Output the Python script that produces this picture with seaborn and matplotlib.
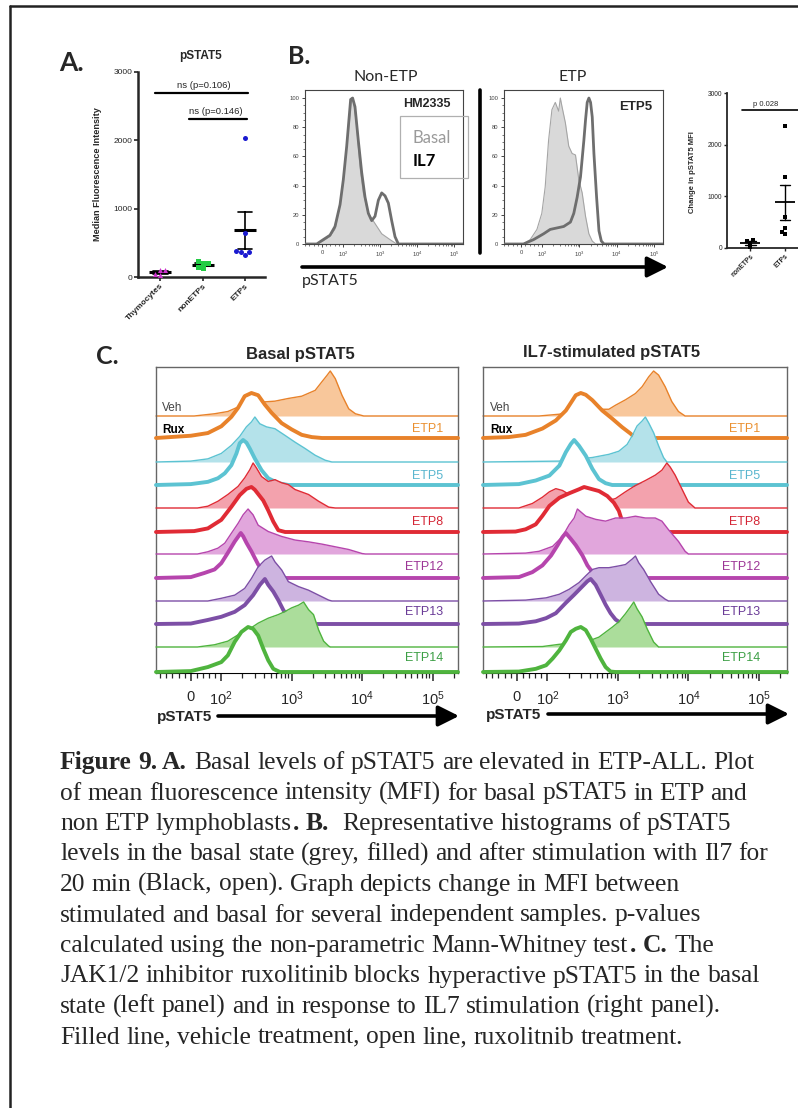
import matplotlib
matplotlib.use("Agg")
import numpy as np
import pandas as pd
import matplotlib.pyplot as plt
import seaborn as sns
from matplotlib.patches import Rectangle
from matplotlib.ticker import FixedLocator

# ---------------- data ----------------
# A. basal pSTAT5 MFI
groups_a = ["Thymocytes", "nonETPs", "ETPs"]
thymo_mfi = [105, 25, 50, 100]
nonetp_mfi = [230, 150, 125, 205, 200]
etp_mfi = [2030, 650, 380, 360, 320, 360]

# B. change in pSTAT5 MFI (IL7 - basal)
groups_chg = ["nonETPs", "ETPs"]
nonetp_chg = [150, 130, 100, 10]
etp_chg = [2360, 1370, 390, 280, 310, 600]

# B. histograms (intensity, % of max)
nonetp_basal_x = [-25, 6, 38, 62, 86, 102, 126, 155, 171, 198, 234, 288, 354, 484, 733, 1110, 1862, 2818]
nonetp_basal_y = [0, 2, 5, 10, 26, 44, 67, 87, 100, 96, 81, 53, 35, 21, 14, 7, 3, 0]
nonetp_il7_x = [-25, 6, 38, 62, 86, 102, 126, 161, 182, 211, 259, 320, 394, 484, 596, 733, 902, 1110,
                1365, 1680, 2065, 2540, 3126]
nonetp_il7_y = [0, 3, 6, 12, 27, 44, 67, 99, 100, 94, 71, 49, 32, 21, 16, 19, 30, 35, 33, 28, 16, 5, 0]
etp_basal_x = [11, 43, 75, 98, 120, 148, 182, 224, 276, 306, 340, 418, 515, 634, 780, 960, 1180, 1452, 1786, 2198, 2704]
etp_basal_y = [0, 3, 10, 21, 39, 71, 92, 97, 91, 100, 94, 83, 67, 62, 61, 44, 35, 19, 7, 2, 0]
etp_il7_x = [11, 59, 109, 164, 249, 377, 571, 703, 865, 1064, 1310, 1452, 1611, 1786, 1982, 2198, 2438, 2877, 3331, 3855, 4550]
etp_il7_y = [0, 3, 7, 10, 11, 12, 15, 21, 32, 46, 71, 85, 97, 100, 97, 87, 62, 32, 9, 2, 0]

# C. basal pSTAT5, vehicle (filled) and ruxolitinib (open)
samples = ["ETP1", "ETP5", "ETP8", "ETP12", "ETP13", "ETP14"]
b1_veh_x = [11, 78, 124, 173, 215, 373, 578, 896, 1389, 2154, 2683, 3162, 3530, 4160, 5179, 6450, 8030, 10560]
b1_veh_y = [0, 5, 10, 20, 35, 31, 33, 39, 44, 57, 76, 90, 100, 83, 46, 16, 5, 0]
b1_rux_x = [0, 56, 100, 139, 173, 215, 268, 334, 416, 518, 720, 1000, 1389, 1931, 2683]
b1_rux_y = [5, 11, 26, 47, 67, 93, 100, 95, 74, 56, 33, 19, 7, 2, 0]
b5_veh_x = [0, 56, 100, 139, 183, 227, 268, 300, 352, 440, 578, 806, 1117, 1550, 2154, 2990, 3728]
b5_veh_y = [2, 7, 19, 37, 57, 78, 89, 100, 85, 78, 74, 59, 44, 30, 15, 4, 0]
b5_rux_x = [0, 56, 89, 112, 139, 164, 183, 204, 228, 254, 299, 373, 464, 645, 896]
b5_rux_y = [2, 7, 15, 26, 44, 70, 93, 100, 94, 81, 59, 33, 15, 4, 0]
b8_veh_x = [22, 56, 89, 124, 173, 215, 254, 283, 316, 373, 464, 578, 720, 896, 1117, 1735, 2410, 3350, 4160]
b8_veh_y = [0, 4, 15, 30, 48, 67, 85, 100, 89, 70, 59, 63, 56, 52, 41, 30, 15, 2, 0]
b8_rux_x = [11, 56, 100, 139, 183, 228, 268, 299, 394, 464, 548, 645, 806]
b8_rux_y = [2, 8, 27, 56, 82, 96, 100, 94, 70, 48, 23, 4, 0]
b12_veh_x = [22, 56, 89, 112, 139, 173, 204, 240, 283, 334, 464, 720, 1117, 1735, 2683, 4160, 6450, 10000, 11180]
b12_veh_y = [0, 5, 13, 24, 46, 68, 87, 100, 87, 64, 50, 39, 31, 27, 22, 16, 10, 1, 0]
b12_rux_x = [0, 44, 78, 100, 124, 155, 189, 204, 228, 268, 334, 440, 578]
b12_rux_y = [2, 11, 19, 33, 56, 81, 100, 93, 78, 59, 30, 7, 0]
b13_veh_x = [56, 100, 155, 215, 268, 334, 416, 518, 578, 720, 896, 1250, 1735, 2410, 3350, 3728]
b13_veh_y = [0, 6, 13, 28, 50, 76, 91, 100, 87, 69, 43, 32, 24, 13, 2, 0]
b13_rux_x = [0, 56, 100, 155, 215, 283, 353, 416, 464, 548, 645, 760, 945, 1176]
b13_rux_y = [1, 9, 16, 27, 42, 64, 87, 100, 87, 72, 53, 31, 9, 0]
b14_veh_x = [22, 78, 124, 173, 240, 334, 464, 645, 806, 1000, 1250, 1475, 1735, 2040, 2410, 2840, 3350, 3540]
b14_veh_y = [0, 5, 13, 27, 38, 53, 64, 72, 79, 87, 93, 100, 83, 72, 38, 13, 2, 0]
b14_rux_x = [0, 56, 100, 124, 155, 193, 240, 283, 334, 394, 464, 548, 680]
b14_rux_y = [2, 11, 22, 37, 67, 89, 100, 96, 81, 52, 26, 7, 0]

# C. IL7-stimulated pSTAT5
s1_veh_x = [73, 148, 228, 351, 540, 746, 927, 1282, 1775, 2205, 2735, 3215, 3780, 4690, 5820, 7230, 8980]
s1_veh_y = [0, 4, 10, 13, 15, 15, 24, 36, 50, 65, 87, 100, 91, 65, 32, 10, 0]
s1_rux_x = [-27, 29, 84, 132, 183, 228, 253, 298, 351, 435, 601, 832, 1150, 1506, 1775]
s1_rux_y = [2, 7, 21, 39, 61, 84, 95, 100, 96, 84, 61, 43, 24, 10, 0]
s5_veh_x = [148, 253, 435, 746, 1033, 1352, 1592, 1870, 2205, 2454, 2735, 3215, 3780, 4440, 4950]
s5_veh_y = [2, 6, 10, 17, 24, 39, 58, 80, 91, 100, 87, 65, 36, 10, 0]
s5_rux_x = [7, 62, 107, 148, 183, 215, 240, 282, 351, 435, 540, 670, 832]
s5_rux_y = [2, 10, 21, 43, 73, 91, 100, 87, 65, 36, 13, 4, 0]
s8_veh_x = [7, 51, 84, 107, 132, 164, 204, 351, 601, 927, 1282, 1775, 2454, 3390, 4210, 4950, 5520, 6490, 8050, 10000, 12420]
s8_veh_y = [0, 10, 24, 36, 43, 39, 30, 20, 13, 21, 36, 50, 61, 73, 84, 100, 91, 73, 43, 13, 0]
s8_rux_x = [-4, 29, 62, 84, 107, 148, 204, 282, 332, 412, 540, 708, 879, 1033, 1150, 1282, 1426]
s8_rux_y = [1, 6, 17, 36, 58, 76, 86, 95, 100, 96, 91, 80, 65, 47, 24, 2, 0]
s12_veh_x = [29, 73, 119, 164, 204, 240, 267, 351, 484, 670, 927, 1282, 1775, 2454, 3390, 4210, 5220, 7230, 8980, 10000]
s12_veh_y = [2, 6, 17, 39, 65, 80, 100, 84, 77, 73, 80, 80, 84, 80, 80, 73, 54, 28, 6, 0]
s12_rux_x = [7, 51, 84, 113, 140, 164, 183, 215, 253, 315, 370, 435, 540, 670]
s12_rux_y = [2, 13, 28, 50, 73, 91, 100, 87, 73, 50, 28, 13, 2, 0]
s13_veh_x = [29, 96, 148, 204, 282, 351, 435, 540, 746, 1033, 1282, 1592, 1775, 1976, 2320, 2885, 3780, 4690, 5220]
s13_veh_y = [2, 7, 15, 26, 41, 56, 70, 74, 74, 78, 81, 93, 100, 85, 70, 44, 15, 4, 0]
s13_rux_x = [7, 62, 96, 132, 183, 240, 298, 370, 412, 484, 570, 670, 788, 927, 1150]
s13_rux_y = [1, 6, 13, 24, 47, 65, 80, 95, 100, 87, 65, 43, 24, 10, 0]
s14_veh_x = [84, 148, 253, 351, 540, 670, 832, 1033, 1282, 1506, 1680, 1870, 2205, 2590, 3215, 3780]
s14_veh_y = [1, 6, 9, 11, 22, 33, 44, 56, 74, 89, 100, 85, 67, 41, 11, 0]
s14_rux_x = [7, 62, 96, 119, 148, 183, 215, 253, 298, 351, 412, 484, 570, 670, 788, 927]
s14_rux_y = [1, 7, 15, 30, 48, 70, 89, 96, 100, 93, 74, 52, 30, 11, 1, 0]

line_colors = ["#e8822a", "#5cc3d2", "#e02b35", "#b645ad", "#7d4fa6", "#4fb43e"]
fill_colors = ["#f8c79b", "#b4e2ea", "#f3a2ad", "#e1a6dc", "#cdb4e0", "#abdd9b"]
label_colors = ["#ea9030", "#5ab6cf", "#d42535", "#9c3596", "#6a3b97", "#3c9f45"]

# caption, ** marks bold runs
caption = [
    "**Figure 9. A.** Basal levels of pSTAT5 are elevated in ETP-ALL. Plot",
    "of mean fluorescence intensity (MFI) for basal pSTAT5 in ETP and",
    "non ETP lymphoblasts**. B.**  Representative histograms of pSTAT5",
    "levels in the basal state (grey, filled) and after stimulation with Il7 for",
    "20 min (Black, open). Graph depicts change in MFI between",
    "stimulated and basal for several independent samples. p-values",
    "calculated using the non-parametric Mann-Whitney test**. C.** The",
    "JAK1/2 inhibitor ruxolitinib blocks hyperactive pSTAT5 in the basal",
    "state (left panel) and in response to IL7 stimulation (right panel).",
    "Filled line, vehicle treatment, open line, ruxolitnib treatment.",
]

# ---------------- style ----------------
sns.set_style("ticks")
plt.rcParams["font.family"] = ["Liberation Sans", "DejaVu Sans"]

W, H = 798, 1108
fig = plt.figure(figsize=(W / 100, H / 100), dpi=100)
fig.patch.set_facecolor("white")


def px_axes(x0, y0, x1, y1):
    return fig.add_axes([x0 / W, 1 - y1 / H, (x1 - x0) / W, (y1 - y0) / H])


def flow_curve(ax, xs, ys, base, scale, xlo, xhi, line, fill, lw, z):
    x = [xlo] + list(xs) + [xhi]
    y = [base] + [base + v * scale for v in ys] + [base]
    if fill is not None:
        ax.fill_between(x, base, y, color=fill, lw=0, zorder=z)
    sns.lineplot(x=x, y=y, ax=ax, color=line, lw=lw, sort=False, estimator=None,
                 zorder=z + 0.5, solid_joinstyle="round")


def scatter_panel(ax, df, order, colors, markers, size):
    for g, c, m in zip(order, colors, markers):
        sns.swarmplot(data=df[df.group == g], x="group", y="value", order=order,
                      color=c, marker=m, size=size, ax=ax, zorder=3)
    for c in ax.collections:
        c.set_clip_on(False)


# ---------------- A ----------------
axA = px_axes(138, 72, 265, 277)
dfA = pd.DataFrame({
    "group": ["Thymocytes"] * len(thymo_mfi) + ["nonETPs"] * len(nonetp_mfi) + ["ETPs"] * len(etp_mfi),
    "value": thymo_mfi + nonetp_mfi + etp_mfi,
})
scatter_panel(axA, dfA, groups_a, ["#cc33cc", "#22cc44", "#1a1ad0"], ["^", "s", "o"], 3.6)
sns.pointplot(data=dfA, x="group", y="value", order=groups_a, errorbar="se", capsize=0.35,
              color="black", markers="_", linestyles="none", markersize=16.5,
              markeredgewidth=2.2, err_kws={"linewidth": 1.2}, ax=axA)
axA.set_xlim(-0.52, 2.47)
axA.set_ylim(0, 3000)
axA.set_yticks([0, 1000, 2000, 3000])
axA.tick_params(axis="y", labelsize=6, length=3, width=1.2, pad=1)
axA.tick_params(axis="x", labelsize=6, length=3, width=1.2, pad=1)
for lab in axA.get_xticklabels():
    lab.set_rotation(45)
    lab.set_ha("right")
    lab.set_rotation_mode("anchor")
    lab.set_fontweight("bold")
axA.set_xlabel("")
axA.set_ylabel("")
sns.despine(ax=axA)
for s in ["left", "bottom"]:
    axA.spines[s].set_linewidth(1.8)

# ---------------- B small chart ----------------
axS = px_axes(727, 93, 800, 248)
dfS = pd.DataFrame({
    "group": ["nonETPs"] * len(nonetp_chg) + ["ETPs"] * len(etp_chg),
    "value": nonetp_chg + etp_chg,
})
scatter_panel(axS, dfS, groups_chg, ["black", "black"], ["s", "s"], 2.4)
sns.pointplot(data=dfS, x="group", y="value", order=groups_chg, errorbar="se", capsize=0.3,
              color="black", markers="_", linestyles="none", markersize=14,
              markeredgewidth=1.3, err_kws={"linewidth": 1.0}, ax=axS)
axS.set_xlim(-0.67, 1.43)
axS.set_ylim(0, 3000)
axS.set_yticks([0, 1000, 2000, 3000])
axS.tick_params(axis="both", labelsize=4.8, length=2.5, width=1, pad=1)
for lab in axS.get_xticklabels():
    lab.set_rotation(45)
    lab.set_ha("right")
    lab.set_rotation_mode("anchor")
    lab.set_fontweight("bold")
axS.set_xlabel("")
axS.set_ylabel("")
sns.despine(ax=axS)
for s in ["left", "bottom"]:
    axS.spines[s].set_linewidth(1.3)

# ---------------- B histograms ----------------
b_minor = [-80, -60, -40, -20, 20, 40, 60, 80] + [k * 10 ** d for d in range(2, 6) for k in range(2, 10)]
for (x0, x1), bx, by, ix, iy in [((305, 463), nonetp_basal_x, nonetp_basal_y, nonetp_il7_x, nonetp_il7_y),
                                  ((504, 663), etp_basal_x, etp_basal_y, etp_il7_x, etp_il7_y)]:
    ax = px_axes(x0, 90, x1, 244)
    ax.set_xscale("symlog", linthresh=100, linscale=0.51)
    flow_curve(ax, bx, by, 0, 1, -81, 1.74e5, "#a5a5a5", "#d9d9d9", 0.8, 2)
    flow_curve(ax, ix, iy, 0, 1, -81, 1.74e5, "#6e6e6e", None, 2.0, 3)
    ax.set_xlim(-81, 1.74e5)
    ax.set_ylim(0, 105.5)
    ax.set_yticks([0, 20, 40, 60, 80, 100])
    ax.yaxis.set_minor_locator(FixedLocator(list(range(5, 105, 5))))
    ax.set_xticks([0, 1e2, 1e3, 1e4, 1e5],
                  ["0", r"$\mathregular{10^2}$", r"$\mathregular{10^3}$", r"$\mathregular{10^4}$", r"$\mathregular{10^5}$"])
    ax.xaxis.set_minor_locator(FixedLocator(b_minor))
    ax.tick_params(axis="both", which="major", labelsize=4.2, length=2.5, width=0.7, pad=1.5,
                   colors="#444444")
    ax.tick_params(axis="both", which="minor", length=1.3, width=0.5, colors="#444444")
    for s in ax.spines.values():
        s.set_linewidth(0.8)
        s.set_color("#444444")

# ---------------- C ----------------
veh_base = [257, 211, 165, 119, 72, 26]
rux_base = [235, 188, 141, 95, 49, 1]
basal_curves = [(b1_veh_x, b1_veh_y, b1_rux_x, b1_rux_y), (b5_veh_x, b5_veh_y, b5_rux_x, b5_rux_y),
                (b8_veh_x, b8_veh_y, b8_rux_x, b8_rux_y), (b12_veh_x, b12_veh_y, b12_rux_x, b12_rux_y),
                (b13_veh_x, b13_veh_y, b13_rux_x, b13_rux_y), (b14_veh_x, b14_veh_y, b14_rux_x, b14_rux_y)]
il7_curves = [(s1_veh_x, s1_veh_y, s1_rux_x, s1_rux_y), (s5_veh_x, s5_veh_y, s5_rux_x, s5_rux_y),
              (s8_veh_x, s8_veh_y, s8_rux_x, s8_rux_y), (s12_veh_x, s12_veh_y, s12_rux_x, s12_rux_y),
              (s13_veh_x, s13_veh_y, s13_rux_x, s13_rux_y), (s14_veh_x, s14_veh_y, s14_rux_x, s14_rux_y)]
c_minor = [-100, -80, -60, -40, -20, 20, 40, 60, 80] + [k * 10 ** d for d in range(2, 6) for k in range(2, 10)]

for (x0, x1, xlo, xhi), curves in [((156, 458, -115, 2.3e5), basal_curves),
                                    ((483, 787, -111, 2.5e5), il7_curves)]:
    ax = px_axes(x0, 367, x1, 673)
    ax.set_xscale("symlog", linthresh=100, linscale=0.39)
    for i, (vx, vy, rx, ry) in enumerate(curves):
        flow_curve(ax, vx, vy, veh_base[i], 0.45, xlo, xhi, line_colors[i], fill_colors[i], 1.0, 2 + 2 * i)
        flow_curve(ax, rx, ry, rux_base[i], 0.45, xlo, xhi, line_colors[i], "white", 2.8, 3 + 2 * i)
    for ln in ax.lines:
        ln.set_clip_on(False)
    ax.set_xlim(xlo, xhi)
    ax.set_ylim(0, 306)
    ax.set_yticks([])
    ax.set_xticks([0, 1e2, 1e3, 1e4, 1e5],
                  ["0", r"$\mathregular{10^2}$", r"$\mathregular{10^3}$", r"$\mathregular{10^4}$", r"$\mathregular{10^5}$"])
    ax.xaxis.set_minor_locator(FixedLocator(c_minor))
    ax.tick_params(axis="x", which="major", labelsize=10.5, length=6, width=1.1, pad=6, direction="out")
    ax.tick_params(axis="x", which="minor", length=3.5, width=0.9, direction="out")
    for s in ["left", "top", "right"]:
        ax.spines[s].set_color("#666666")
        ax.spines[s].set_linewidth(1.0)
    ax.spines["bottom"].set_color("black")

# ---------------- overlay: labels, arrows, caption ----------------
ov = fig.add_axes([0, 0, 1, 1])
ov.set_xlim(0, W)
ov.set_ylim(H, 0)
ov.axis("off")
ov.patch.set_visible(False)

# page frame
ov.plot([10, 798], [6, 6], color="#222222", lw=1.8, clip_on=False)
ov.plot([10, 10], [6, 1108], color="#222222", lw=1.8, clip_on=False)

# panel letters
ov.text(59, 63, "A.", fontsize=19, fontweight="bold", family="Lato", va="center")
ov.text(288, 56, "B.", fontsize=18, fontweight="bold", family="Lato", va="center")
ov.text(96, 357, "C.", fontsize=18, fontweight="bold", family="Lato", va="center")

# A annotations
ov.text(201, 56, "pSTAT5", fontsize=8.5, fontweight="bold", ha="center", va="center")
ov.text(97, 174, "Median Fluorescence Intensity", fontsize=6.6, fontweight="bold",
        rotation=90, ha="center", va="center")
ov.plot([155, 248], [93, 93], color="black", lw=1.6)
ov.plot([189, 247], [119, 119], color="black", lw=1.6)
ov.text(204, 86, "ns (p=0.106)", fontsize=6.8, ha="center", va="center")
ov.text(216, 111, "ns (p=0.146)", fontsize=6.8, ha="center", va="center")

# B annotations
ov.text(386, 77, "Non-ETP", fontsize=11.5, family="Lato", ha="center", va="center")
ov.text(573, 77, "ETP", fontsize=11.5, family="Lato", ha="center", va="center")
ov.text(427, 104, "HM2335", fontsize=9, fontweight="bold", ha="center", va="center")
ov.text(636, 107, "ETP5", fontsize=9.5, fontweight="bold", ha="center", va="center")
ov.add_patch(Rectangle((400, 116), 68, 62, fill=False, ec="#b0b0b0", lw=0.9))
ov.text(413, 138, "Basal", fontsize=12, family="Lato", color="#9a9a9a", va="center")
ov.text(413, 161, "IL7", fontsize=12, family="Lato", fontweight="bold", color="black", va="center")
ov.plot([480, 480], [90, 253], color="black", lw=2.6)
ov.annotate("", xy=(668, 267), xytext=(302, 267),
            arrowprops=dict(arrowstyle="-|>,head_length=0.9,head_width=0.45", lw=2.6, color="black",
                            shrinkA=0, shrinkB=0, mutation_scale=14))
ov.text(302, 281, "pSTAT5", fontsize=11.5, family="Lato", va="center")
ov.text(692, 172, "Change in pSTAT5 MFI", fontsize=5.5, fontweight="bold", rotation=90,
        ha="center", va="center")
ov.plot([742, 800], [110, 110], color="black", lw=1.2, clip_on=False)
ov.text(766, 104, "p 0.028", fontsize=5.5, ha="center", va="center")

# C annotations
ov.text(300, 355, "Basal pSTAT5", fontsize=12, fontweight="bold", ha="center", va="center")
ov.text(612, 353, "IL7-stimulated pSTAT5", fontsize=12, fontweight="bold", ha="center", va="center")
label_y = [429, 476, 522, 567, 612, 658]
for xl, xr in [(162, 443), (490, 760)]:
    ov.text(xl, 408, "Veh", fontsize=8.5, color="#444444", va="center")
    ov.text(xl, 430, "Rux", fontsize=8.5, fontweight="bold", color="black", va="center")
    for i, name in enumerate(samples):
        ov.text(xr, label_y[i], name, fontsize=9, color=label_colors[i], ha="right", va="center")
for x0, x1, x2, y in [(157, 218, 459, 716), (486, 548, 789, 714)]:
    ov.text(x0, y + 1, "pSTAT5", fontsize=11, fontweight="bold", va="center")
    ov.annotate("", xy=(x2, y), xytext=(x1, y),
                arrowprops=dict(arrowstyle="-|>,head_length=0.9,head_width=0.45", lw=2.6, color="black",
                                shrinkA=0, shrinkB=0, mutation_scale=14))

# caption: one text per word, placed where the whole run would put it
renderer = fig.canvas.get_renderer()
cap_size = 18.4


def text_width(s, weight):
    t = ov.text(0, 0, s, fontsize=cap_size, family="Liberation Serif", fontweight=weight)
    w = t.get_window_extent(renderer).width
    t.remove()
    return w


space_w = {wt: text_width("a a", wt) - text_width("aa", wt) for wt in ["normal", "bold"]}
for k, line in enumerate(caption):
    x = 60
    y = 769 + 30.5 * k
    for j, part in enumerate(line.split("**")):
        weight = "bold" if j % 2 else "normal"
        body = part.strip(" ")
        lead = len(part) - len(part.lstrip(" "))
        trail = len(part) - len(part.rstrip(" "))
        x += lead * space_w[weight]
        if body:
            words = body.split(" ")
            for n, word in enumerate(words):
                off = 0 if n == 0 else text_width(" ".join(words[:n + 1]), weight) - text_width(word, weight)
                ov.text(x + off, y, word, fontsize=cap_size, family="Liberation Serif",
                        fontweight=weight, va="baseline", ha="left")
            x += text_width(body, weight) + 1
        x += trail * space_w[weight]

fig.savefig("out.png", dpi=100)
